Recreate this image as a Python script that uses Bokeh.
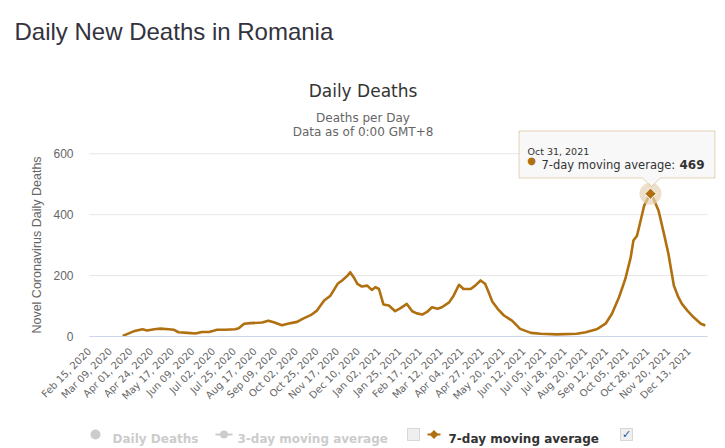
import math
from datetime import datetime, timedelta

from bokeh.plotting import figure
from bokeh.models import (ColumnDataSource, Range1d, FixedTicker, DatetimeTickFormatter,
                          Label, BoxAnnotation, PolyAnnotation)
from bokeh.embed import file_html
from bokeh.resources import INLINE

# ---------------- data ----------------
page_title = "Daily New Deaths in Romania"
chart_title = "Daily Deaths"
subtitle_lines = ["Deaths per Day", "Data as of 0:00 GMT+8"]
y_axis_title = "Novel Coronavirus Daily Deaths"
series_names = ["Daily Deaths", "3-day moving average", "7-day moving average"]

x_tick_labels = [
    "Feb 15, 2020", "Mar 09, 2020", "Apr 01, 2020", "Apr 24, 2020", "May 17, 2020",
    "Jun 09, 2020", "Jul 02, 2020", "Jul 25, 2020", "Aug 17, 2020", "Sep 09, 2020",
    "Oct 02, 2020", "Oct 25, 2020", "Nov 17, 2020", "Dec 10, 2020", "Jan 02, 2021",
    "Jan 25, 2021", "Feb 17, 2021", "Mar 12, 2021", "Apr 04, 2021", "Apr 27, 2021",
    "May 20, 2021", "Jun 12, 2021", "Jul 05, 2021", "Jul 28, 2021", "Aug 20, 2021",
    "Sep 12, 2021", "Oct 05, 2021", "Oct 28, 2021", "Nov 20, 2021", "Dec 13, 2021",
]
y_ticks = [0, 200, 400, 600]

ma7_dates = [
    "2020-03-23", "2020-04-04", "2020-04-14", "2020-04-19", "2020-04-27", "2020-05-04",
    "2020-05-13", "2020-05-19", "2020-05-24", "2020-06-03", "2020-06-12", "2020-06-19",
    "2020-06-27", "2020-07-06", "2020-07-15", "2020-07-26", "2020-07-30", "2020-08-05",
    "2020-08-12", "2020-08-20", "2020-08-25", "2020-09-01", "2020-09-07", "2020-09-16",
    "2020-09-26", "2020-10-03", "2020-10-09", "2020-10-18", "2020-10-25", "2020-11-02",
    "2020-11-09", "2020-11-17", "2020-11-22", "2020-11-28", "2020-12-01", "2020-12-05",
    "2020-12-09", "2020-12-14", "2020-12-20", "2020-12-25", "2020-12-29", "2021-01-02",
    "2021-01-07", "2021-01-13", "2021-01-20", "2021-01-26", "2021-02-02", "2021-02-08",
    "2021-02-13", "2021-02-19", "2021-02-25", "2021-03-02", "2021-03-08", "2021-03-13",
    "2021-03-21", "2021-03-26", "2021-04-01", "2021-04-06", "2021-04-14", "2021-04-19",
    "2021-04-25", "2021-04-30", "2021-05-04", "2021-05-08", "2021-05-14", "2021-05-21",
    "2021-05-30", "2021-06-08", "2021-06-20", "2021-07-01", "2021-07-19", "2021-08-10",
    "2021-08-20", "2021-09-02", "2021-09-11", "2021-09-18", "2021-09-26", "2021-10-03",
    "2021-10-09", "2021-10-12", "2021-10-16", "2021-10-20", "2021-10-24", "2021-10-27",
    "2021-10-31", "2021-11-03", "2021-11-09", "2021-11-15", "2021-11-20", "2021-11-26",
    "2021-12-01", "2021-12-05", "2021-12-11", "2021-12-18", "2021-12-26", "2021-12-31",
]
ma7_values = [
    2, 17, 24, 20, 24, 26,
    24, 22, 14, 12, 10, 15,
    15, 22, 22, 24, 27, 42,
    44, 45, 46, 52, 47, 37,
    44, 48, 58, 70, 85, 118,
    134, 173, 184, 200, 211, 194,
    173, 164, 167, 153, 162, 156,
    105, 102, 83, 93, 107, 83,
    76, 72, 82, 96, 91, 96,
    112, 134, 170, 156, 156, 167,
    184, 173, 145, 115, 91, 69,
    52, 25, 12, 9, 7, 9,
    14, 25, 42, 74, 129, 189,
    260, 315, 331, 380, 430, 448,
    469, 455, 413, 337, 271, 167,
    129, 107, 85, 63, 42, 36,
]

# ---------------- layout / styles ----------------
FIG_W, FIG_H = 725, 448
PLOT_L, PLOT_R, PLOT_T, PLOT_B = 89.0, 707.0, 153.3, 336.0   # plot area in canvas px
X_FIRST = datetime(2020, 2, 15)          # category axis start (left edge of plot area)
X_LAST = datetime(2022, 1, 2, 10)        # right edge of plot area
LINE = "#b1700f"
GREY_TXT = "#cccccc"
DATE_FMT = "%b %d, %Y"

dpp = (X_LAST - X_FIRST) / (PLOT_R - PLOT_L)           # time per pixel
upp = (y_ticks[-1] - y_ticks[0]) / (PLOT_B - PLOT_T)   # value per pixel
x_range = Range1d(X_FIRST - dpp * PLOT_L, X_LAST + dpp * (FIG_W - PLOT_R))
y_range = Range1d(y_ticks[0] - upp * (FIG_H - PLOT_B), y_ticks[-1] + upp * PLOT_T)

epoch = datetime(1970, 1, 1)
def to_ms(d):
    return (d - epoch).total_seconds() * 1000

dates = [datetime.strptime(d, "%Y-%m-%d") for d in ma7_dates]
src = ColumnDataSource(dict(date=dates, value=ma7_values))
tick_ms = [to_ms(datetime.strptime(t, DATE_FMT)) for t in x_tick_labels]

p = figure(width=FIG_W, height=FIG_H, x_axis_type="datetime",
           x_range=x_range, y_range=y_range,
           output_backend="svg", toolbar_location=None,
           min_border_left=0, min_border_right=0, min_border_top=0, min_border_bottom=0)
p.outline_line_color = None
p.background_fill_color = "white"
p.border_fill_color = "white"
p.xgrid.visible = False
p.ygrid.visible = False

# horizontal grid lines over the plot area only
p.segment(x0=[X_FIRST] * len(y_ticks), x1=[X_LAST] * len(y_ticks), y0=y_ticks, y1=y_ticks,
          line_color="#e6e6e6", line_width=1)

ya = p.yaxis[0]
ya.fixed_location = to_ms(X_FIRST)
ya.bounds = (y_ticks[0], y_ticks[-1])
ya.ticker = FixedTicker(ticks=y_ticks)
ya.axis_line_color = None
ya.major_tick_line_color = None
ya.minor_tick_line_color = None
ya.major_tick_out = 0
ya.major_tick_in = 0
ya.major_label_text_font = "Liberation Sans"
ya.major_label_text_font_size = "12px"
ya.major_label_text_color = "#666666"
ya.major_label_standoff = 16
ya.axis_label = y_axis_title
ya.axis_label_text_font = "Liberation Sans"
ya.axis_label_text_font_style = "normal"
ya.axis_label_text_font_size = "12.5px"
ya.axis_label_text_color = "#666666"
ya.axis_label_standoff = 6

xa = p.xaxis[0]
xa.fixed_location = y_ticks[0]
xa.bounds = (X_FIRST, X_LAST)
xa.ticker = FixedTicker(ticks=tick_ms)
xa.formatter = DatetimeTickFormatter(
    microseconds=DATE_FMT, milliseconds=DATE_FMT, seconds=DATE_FMT, minsec=DATE_FMT,
    minutes=DATE_FMT, hourmin=DATE_FMT, hours=DATE_FMT, days=DATE_FMT,
    months=DATE_FMT, years=DATE_FMT)
xa.major_label_orientation = math.pi / 4
xa.axis_line_color = "#ccd6eb"
xa.axis_line_width = 1
xa.major_tick_line_color = None
xa.minor_tick_line_color = None
xa.major_tick_out = 0
xa.major_tick_in = 0
xa.major_label_standoff = 13
xa.major_label_text_font = "DejaVu Sans"
xa.major_label_text_font_size = "10px"
xa.major_label_text_color = "#666666"

p.line("date", "value", source=src, line_color=LINE, line_width=2.6, line_join="round")

# highlighted point (max of the series)
i_peak = max(range(len(ma7_values)), key=lambda i: ma7_values[i])
peak_date, peak_val = dates[i_peak], ma7_values[i_peak]
p.scatter([peak_date], [peak_val], marker="circle", size=22,
          fill_color="#e6d2b4", fill_alpha=0.7, line_color=None)
p.scatter([peak_date], [peak_val], marker="square", angle=math.pi / 4, size=8,
          fill_color=LINE, line_color="white", line_width=1)

# ---------------- texts (screen units: px from canvas left / bottom) ----------------
def lab(x, y, text, font="DejaVu Sans", size="12px", color="#333333", align="left",
        baseline="alphabetic", style="normal"):
    p.add_layout(Label(x=x, y=FIG_H - y, x_units="screen", y_units="screen", text=text,
                       text_font=font, text_font_size=size, text_color=color,
                       text_align=align, text_baseline=baseline, text_font_style=style))

def box(l, r, t, b, **kw):
    p.add_layout(BoxAnnotation(left=l, right=r, top=FIG_H - t, bottom=FIG_H - b,
                               left_units="screen", right_units="screen",
                               top_units="screen", bottom_units="screen", **kw))

def poly(xs, ys, **kw):
    p.add_layout(PolyAnnotation(xs=xs, ys=[FIG_H - y for y in ys],
                                xs_units="screen", ys_units="screen", **kw))

CX = FIG_W / 2
lab(14, 30.7, page_title, font="Liberation Sans", size="24px", color="#333340")
lab(CX, 90, chart_title, size="17px", color="#333333", align="center")
lab(CX, 117, subtitle_lines[0], size="12px", color="#666666", align="center")
lab(CX, 131.5, subtitle_lines[1], size="12px", color="#666666", align="center")

# ---------------- tooltip ----------------
poly([518.5, 714.5, 714.5, 660, 651, 642, 518.5],
     [130.5, 130.5, 177.5, 177.5, 186, 177.5, 177.5],
     fill_color="#f7f7f7", fill_alpha=0.92, line_color=LINE, line_width=1)
lab(527, 151, peak_date.strftime(DATE_FMT), size="9.5px", color="#333333")
lab(531, 160, "\u25CF", size="10px", color=LINE, align="center", baseline="middle")
lab(541, 164, series_names[2] + ": ", size="11.5px", color="#333333")
lab(679, 164, str(peak_val), size="12px", color="#333333", style="bold")

# ---------------- legend ----------------
LY = 434  # legend centre line (canvas px from top)
box(90, 100, LY - 5, LY + 5, border_radius=5, fill_color=GREY_TXT, fill_alpha=1, line_color=None)
lab(112, LY + 4, series_names[0], size="12px", color=GREY_TXT, style="bold")

box(215, 232, LY - 1, LY + 1, fill_color=GREY_TXT, fill_alpha=1, line_color=None)
box(219.5, 227.5, LY - 4, LY + 4, border_radius=4, fill_color=GREY_TXT, fill_alpha=1,
    line_color=None)
lab(237, LY + 4, series_names[1], size="12px", color=GREY_TXT, style="bold")

for left in (407, 620):
    box(left, left + 12, LY - 6, LY + 6, fill_color="#efefef", fill_alpha=1,
        line_color="#8f8f8f", line_width=1)
lab(626, LY, "\u2713", size="11px", color="#2b54a8", align="center", baseline="middle",
    style="bold")

box(427, 440, LY - 1, LY + 1, fill_color=LINE, fill_alpha=1, line_color=None)
poly([433.5, 438, 433.5, 429], [LY - 4.5, LY, LY + 4.5, LY],
     fill_color=LINE, fill_alpha=1, line_color=None)
lab(448, LY + 4, series_names[2], size="12px", color="#333333", style="bold")

open("out.html", "w").write(file_html(p, INLINE))
